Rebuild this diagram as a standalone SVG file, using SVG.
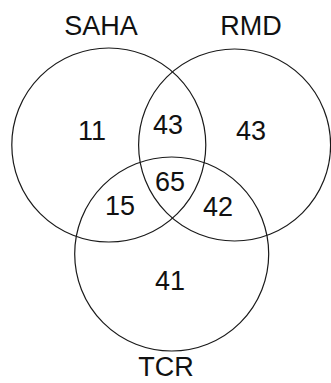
<svg xmlns="http://www.w3.org/2000/svg" width="331" height="383" viewBox="0 0 331 383">
<style>
.c{fill:none;stroke:#1a1a1a;stroke-width:1.2}
text{font-family:"Liberation Sans",Arial,sans-serif;font-size:27px;fill:#111;text-anchor:middle}
</style>
<rect width="331" height="383" fill="#fff"/>
<g id="saha"><circle class="c" cx="108.8" cy="145" r="97"/><text x="101" y="35">SAHA</text></g>
<g id="rmd"><circle class="c" cx="234.6" cy="145" r="96"/><text x="251" y="35">RMD</text></g>
<g id="tcr"><circle class="c" cx="171.7" cy="254" r="97"/><text x="166" y="376">TCR</text></g>
<g id="counts">
<text x="92" y="140">11</text>
<text x="168" y="134">43</text>
<text x="251" y="140">43</text>
<text x="170" y="191">65</text>
<text x="120" y="215">15</text>
<text x="218" y="216">42</text>
<text x="170" y="290">41</text>
</g>
</svg>
